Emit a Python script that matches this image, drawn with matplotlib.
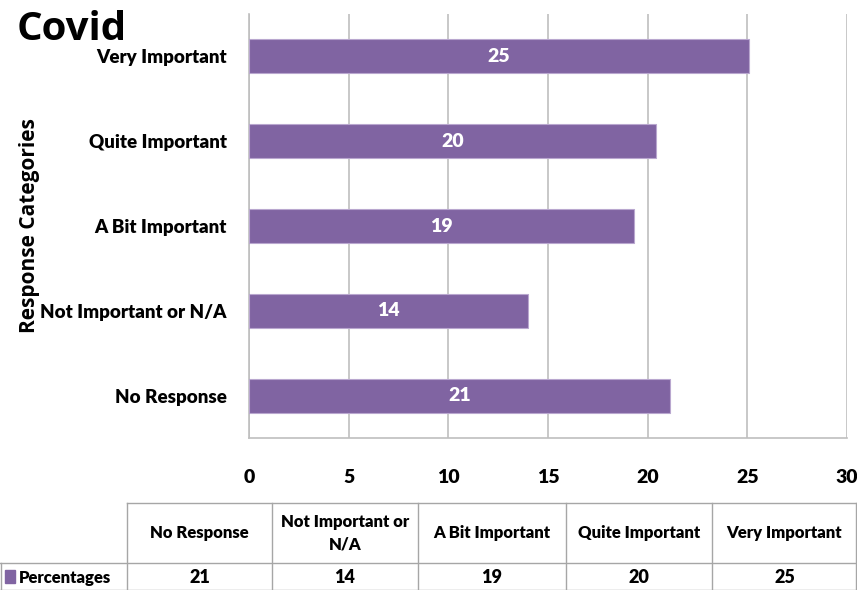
import matplotlib
matplotlib.use("Agg")
import matplotlib.pyplot as plt

categories = ["No Response", "Not Important or N/A", "A Bit Important", "Quite Important", "Very Important"]
table_headers = ["No Response", "Not Important or\nN/A", "A Bit Important", "Quite Important", "Very Important"]
percentages = [21.1, 14.0, 19.3, 20.4, 25.1]
series_name = "Percentages"
xticks = [0, 5, 10, 15, 20, 25, 30]

fam = ["Lato", "DejaVu Sans"]
plt.rcParams['font.family'] = fam
BW = 800

W, H = 857, 590
fig = plt.figure(figsize=(W / 100, H / 100), dpi=100)
bar_color = "#8064A2"
grid_color = "#BFBFBF"

ax = fig.add_axes([249 / W, (H - 438) / H, 598 / W, 424 / H])
y = list(range(len(categories)))
ax.barh(y, percentages, height=0.4, color=bar_color, edgecolor="#B9A7CF", linewidth=0.8, zorder=3)
for yi, v in zip(y, percentages):
    ax.text(v / 2, yi, f"{v:.0f}", ha="center", va="center", color="white",
            fontsize=14, fontweight=BW, zorder=4)
ax.set_xlim(0, 30)
ax.set_ylim(-0.5, len(categories) - 0.5)
ax.set_xticks(xticks)
ax.set_xticklabels([str(t) for t in xticks], fontsize=14, fontweight=BW)
ax.set_yticks(y)
ax.set_yticklabels(categories, fontsize=13.5, fontweight=BW)
ax.tick_params(axis="both", length=0)
ax.tick_params(axis="x", pad=22)
ax.tick_params(axis="y", pad=16)
ax.grid(axis="x", color=grid_color, linewidth=1.2, zorder=0)
for s in ["top", "right"]:
    ax.spines[s].set_visible(False)
for s in ["left", "bottom"]:
    ax.spines[s].set_color(grid_color)
    ax.spines[s].set_linewidth(1.2)
ax.set_ylabel("Response Categories", fontsize=15, fontweight="bold",
              family=["Open Sans", "DejaVu Sans"])
ax.yaxis.set_label_coords(-209 / 598, 0.5)

fig.text(17 / W, 1 - 30 / H, "Covid", fontsize=29, fontweight="bold", ha="left", va="center",
         family=["Open Sans", "DejaVu Sans"])

# data table
tax = fig.add_axes([0, 0, 1, 1])
tax.set_xlim(0, W)
tax.set_ylim(H, 0)
tax.axis("off")
col_edges = [127, 272, 418, 566, 712, 857]
top, mid, bot = 503, 563, 590
lc = "#A6A6A6"
tax.plot([col_edges[0], col_edges[-1]], [top, top], color=lc, lw=1)
tax.plot([0, col_edges[-1]], [mid, mid], color=lc, lw=1)
tax.plot([0, col_edges[-1]], [bot - 0.5, bot - 0.5], color=lc, lw=1)
tax.plot([0.5, 0.5], [mid, bot], color=lc, lw=1)
for xe in col_edges:
    tax.plot([min(xe, W - 0.5)] * 2, [top, bot], color=lc, lw=1)
for i, (hdr, v) in enumerate(zip(table_headers, percentages)):
    cx = (col_edges[i] + col_edges[i + 1]) / 2
    tax.text(cx, (top + mid) / 2, hdr, ha="center", va="center", fontsize=12,
             fontweight=BW, linespacing=1.5)
    tax.text(cx, (mid + bot) / 2 + 1, f"{v:.0f}", ha="center", va="center", fontsize=13,
             fontweight=BW)
tax.add_patch(plt.Rectangle((5, 570), 10, 13, color=bar_color))
tax.text(19, (mid + bot) / 2 + 1, series_name, ha="left", va="center", fontsize=12,
         fontweight=BW)

fig.savefig("out.png", dpi=100)
